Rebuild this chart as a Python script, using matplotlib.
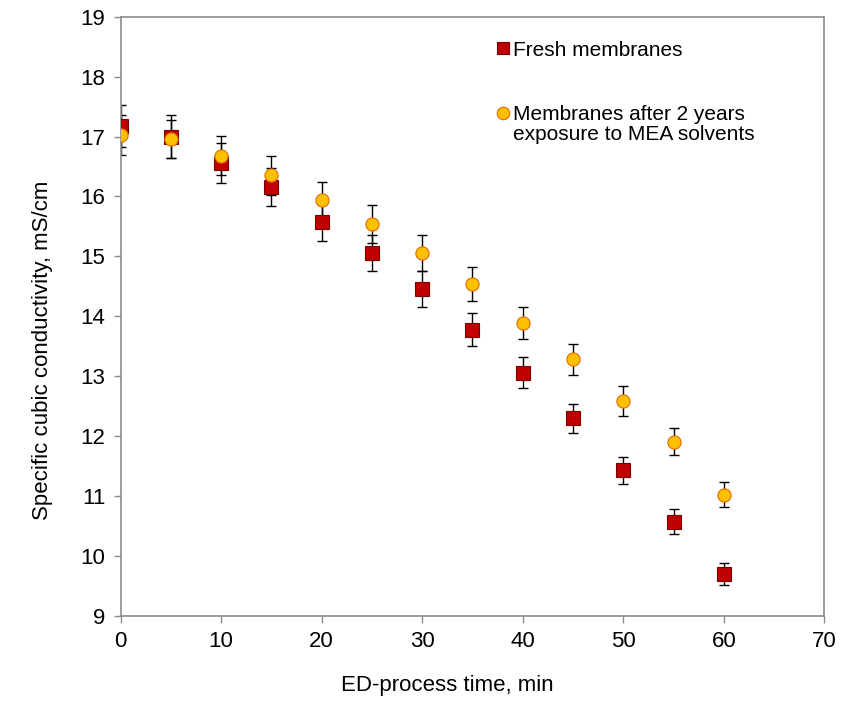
import numpy as np
from matplotlib import pyplot as plt
from matplotlib.lines import Line2D

plt.rcParams['font.family'] = ['Liberation Sans', 'DejaVu Sans']

time_min = [0, 5, 10, 15, 20, 25, 30, 35, 40, 45, 50, 55, 60]
fresh = [17.18, 17.00, 16.56, 16.16, 15.57, 15.06, 14.45, 13.78, 13.06, 12.30, 11.43, 10.57, 9.70]
fresh_err = [0.35, 0.36, 0.33, 0.32, 0.31, 0.30, 0.30, 0.28, 0.26, 0.24, 0.23, 0.21, 0.19]
aged = [17.03, 16.96, 16.68, 16.35, 15.94, 15.54, 15.06, 14.54, 13.89, 13.28, 12.58, 11.91, 11.02]
aged_err = [0.33, 0.32, 0.33, 0.33, 0.30, 0.31, 0.30, 0.28, 0.27, 0.26, 0.25, 0.23, 0.21]

fresh_label = 'Fresh membranes'
aged_lines = ['Membranes after 2 years', 'exposure to MEA solvents']

red_fc, red_ec = '#C00000', '#7A0000'
yel_fc, yel_ec = '#FFC000', '#E06A00'

fig = plt.figure()
fig.set_dpi(100)
fig.set_size_inches(8.5, 7.01)
ax = fig.add_axes([0.1418, 0.1213, 0.828, 0.8549])

ax.errorbar(time_min, fresh, yerr=fresh_err, fmt='none', ecolor='black',
            elinewidth=1, capsize=3.5, capthick=1, zorder=2)
ax.errorbar(time_min, aged, yerr=aged_err, fmt='none', ecolor='black',
            elinewidth=1, capsize=3.5, capthick=1, zorder=2)
ax.plot(time_min, fresh, 's', ms=9.5, mfc=red_fc, mec=red_ec, mew=0.8, zorder=3)
ax.plot(time_min, aged, 'o', ms=9.5, mfc=yel_fc, mec=yel_ec, mew=0.8, zorder=4)

ax.set_xlim(0, 70)
ax.set_ylim(9, 19)
ax.set_xticks(np.arange(0, 71, 10))
ax.set_yticks(np.arange(9, 20, 1))
for s in ax.spines.values():
    s.set_color('#8C8C8C')
    s.set_linewidth(1.2)
ax.tick_params(direction='out', length=5, width=1, color='#8C8C8C',
               labelsize=16, pad=6)
ax.set_xlabel('ED-process time, min', fontsize=16)
ax.set_ylabel('Specific cubic conductivity, mS/cm', fontsize=16)
ax.xaxis.set_label_coords(0.465, -0.098)
ax.yaxis.set_label_coords(-0.096, 0.444)

# legend: two pieces so the circle sits on the first text line
leg_kw = dict(frameon=False, fontsize=15, handlelength=0.6, handletextpad=0.15,
              borderpad=0, borderaxespad=0, loc='center left')
h_fresh = Line2D([], [], ls='none', marker='s', ms=9, mfc=red_fc, mec=red_ec, mew=0.8)
h_aged = Line2D([], [], ls='none', marker='o', ms=9, mfc=yel_fc, mec=yel_ec, mew=0.8)
h_blank = Line2D([], [], ls='none')
leg1 = ax.legend([h_fresh], [fresh_label], bbox_to_anchor=(0.535, 0.944), **leg_kw)
ax.add_artist(leg1)
ax.legend([h_aged, h_blank], aged_lines, bbox_to_anchor=(0.535, 0.820),
          labelspacing=0.05, **leg_kw)

fig.savefig('out.png', dpi=100)
